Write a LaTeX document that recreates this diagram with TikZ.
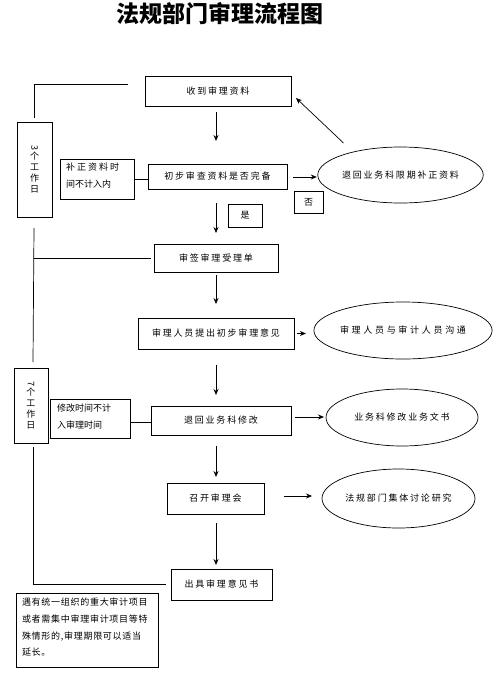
\documentclass[tikz,border=0pt]{standalone}
\usepackage{fontspec}
\newfontfamily\cjk{Noto Sans CJK SC}
\newfontfamily\cjkls[LetterSpace=20]{Noto Sans CJK SC}
\usetikzlibrary{shapes.geometric,arrows.meta,calc}
\begin{document}
\begin{tikzpicture}[x=1pt,y=-1pt,
  every node/.style={inner sep=0pt,outer sep=0pt},
  box/.style={draw,line width=0.7pt,font=\fontsize{9}{11}\cjkls,align=center},
  oval/.style={ellipse,draw,line width=0.7pt,font=\fontsize{9}{11}\cjkls,align=center},
  arr/.style={line width=0.7pt,-{Stealth[length=6pt,width=5pt]}},
  ln/.style={line width=0.7pt}]
\useasboundingbox[fill=white] (0,0) rectangle (497,683);
\coordinate (col) at (216,0);
\node[font=\fontsize{23}{26}\cjk\bfseries] (title) at (220,14) {法规部门审理流程图};
% boxes
\node[box,minimum width=146,minimum height=30] (recv) at (218,91) {收到审理资料};
\node[box,minimum width=35,minimum height=95] (d3) at (34.5,169.5) {};
\node[font=\fontsize{9}{10}\cjk,align=center] (d3t) at (d3.center) {\rotatebox{-90}{3}\\[1pt]个\\[1pt]工\\[1pt]作\\[1pt]日};
\node[box,minimum width=74,minimum height=40] (bz) at (97,179) {};
\node[font=\fontsize{9}{17}\cjk,align=left,anchor=north west] (bzt) at (66,163) {补 正 资 料 时\\间不计入内};
\node[box,minimum width=139,minimum height=25] (chk) at (217.5,176.5) {初步审查资料是否完备};
\node[oval,minimum width=165,minimum height=56] (rej) at (400.5,175) {退回业务科限期补正资料};
\node[box,minimum width=29,minimum height=22] (no) at (308.5,202) {否};
\node[box,minimum width=34,minimum height=23] (yes) at (245,215.5) {是};
\node[box,minimum width=124,minimum height=28] (sign) at (216,258) {审签审理受理单};
\node[box,minimum width=156,minimum height=31] (prop) at (216,333.5) {审理人员提出初步审理意见};
\node[oval,minimum width=148,minimum height=57,font=\fontsize{9}{11}\cjk\addfontfeature{LetterSpace=30}] (comm) at (403,330.5) {审理人员与审计人员沟通};
\node[box,minimum width=34,minimum height=75] (d7) at (31,405.5) {};
\node[font=\fontsize{9}{10}\cjk,align=center] (d7t) at (d7.center) {\rotatebox{-90}{7}\\[1pt]个\\[1pt]工\\[1pt]作\\[1pt]日};
\node[box,minimum width=80,minimum height=39] (mod) at (90,418.5) {};
\node[font=\fontsize{9}{17}\cjk,align=left,anchor=north west] (modt) at (57,404) {修改时间不计\\入审理时间};
\node[box,minimum width=140,minimum height=29] (ret) at (221,420.5) {退回业务科修改};
\node[oval,minimum width=152,minimum height=57] (edit) at (402,417.5) {业务科修改业务文书};
\node[box,minimum width=97,minimum height=31] (meet) at (215.5,498.5) {召开审理会};
\node[oval,minimum width=153,minimum height=59] (disc) at (398.5,498.5) {法规部门集体讨论研究};
\node[box,minimum width=101,minimum height=31] (out) at (221.5,584.5) {出具审理意见书};
\node[box,minimum width=142,minimum height=74] (note) at (87,630) {};
\node[font=\fontsize{9}{16.7}\cjk\addfontfeature{LetterSpace=8},align=left,anchor=north west] (notet) at (22,598) {遇有统一组织的重大审计项目\\或者需集中审理审计项目等特\\殊情形的,审理期限可以适当\\延长。};
% vertical arrows
\draw[arr,shorten <=6,shorten >=23] (recv.south -| col) -- (chk.north -| col);
\draw[arr,shorten <=14,shorten >=11] (chk.south -| col) -- (sign.north -| col);
\draw[arr,shorten <=3,shorten >=14] (sign.south -| col) -- (prop.north -| col);
\draw[arr,shorten <=16,shorten >=11] (prop.south -| col) -- (ret.north -| col);
\draw[arr,shorten <=11,shorten >=6] (ret.south -| col) -- (meet.north -| col);
\draw[arr,shorten <=9,shorten >=4] (meet.south -| col) -- (out.north -| col);
% horizontal arrows
\coordinate (h1) at ($(chk.east)+(0,0.5)$);
\coordinate (h2) at (prop.east);
\coordinate (h3) at ($(ret.east)+(0,-3.5)$);
\coordinate (h4) at ($(meet.east)+(0,-2.5)$);
\draw[arr,shorten <=6,shorten >=1] (h1) -- (h1 -| rej.west);
\draw[arr,shorten <=3,shorten >=8] (h2) -- (h2 -| comm.west);
\draw[arr,shorten <=4,shorten >=2] (h3) -- (h3 -| edit.west);
\draw[arr,shorten <=20,shorten >=10] (h4) -- (h4 -| disc.west);
\coordinate (b1) at ($(rej.center)+(-57,-32)$);
\coordinate (b2) at ($(recv.east)+(5,7)$);
\draw[arr] (b1) -- (b2);
% connector lines
\coordinate (t1) at (128,84);
\coordinate (t2) at ($(d3.north)+(0,-4)$);
\coordinate (v1) at ($(d3.south)+(-0.5,11)$);
\coordinate (v2) at ($(d7.north)+(2,-6)$);
\coordinate (v3) at ($(d3.south)+(-0.5,41)$);
\coordinate (v4) at ($(sign.west)+(-3,0)$);
\coordinate (v5) at ($(d7.south)+(2,4)$);
\coordinate (v6) at ($(out.west)+(-5,0)$);
\coordinate (m1) at ($(mod.east)+(0,3.5)$);
\draw[ln] (t1) -| (t2);
\draw[ln] (v1) -- (v2);
\draw[ln] (v3) -- (v4);
\draw[ln] (v5) |- (v6);
\draw[ln] (bz.east) -- (bz.east -| chk.west);
\draw[ln] (m1) -- (m1 -| ret.west);
\end{tikzpicture}
\end{document}
